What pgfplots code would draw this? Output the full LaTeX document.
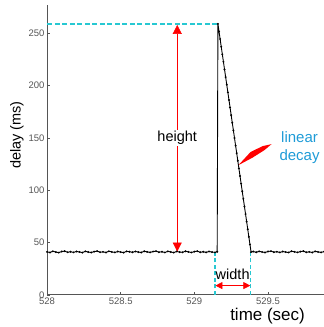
\documentclass[border=0pt]{standalone}
\usepackage{pgfplots}
\pgfplotsset{compat=1.18}
\usepackage{fontspec}
\setmainfont{Liberation Sans}
\usetikzlibrary{arrows.meta}
\definecolor{cyanline}{RGB}{40,200,210}
\definecolor{bluetext}{HTML}{1E9BD7}
\definecolor{axgray}{HTML}{555555}
\begin{document}
\begin{tikzpicture}[x=1pt,y=1pt]
\useasboundingbox (0,0) rectangle (324,327);
\begin{axis}[
  at={(47pt,32pt)}, anchor=origin,
  scale only axis, width=277pt, height=290pt,
  xmin=528, xmax=529.88, ymin=0, ymax=277,
  axis x line*=bottom, axis y line*=left,
  axis line style={line width=1pt, color=axgray},
  tick style={color=axgray, line width=0.8pt},
  tick align=inside, major tick length=3pt,
  xtick={528,528.5,529,529.5}, ytick={0,50,100,150,200,250},
  /pgf/number format/assume math mode=true,
  /pgf/number format/1000 sep={},
  tick label style={font=\fontsize{9.5}{11}\selectfont, text=axgray},
  xticklabel style={yshift=1pt},
  yticklabel style={xshift=1pt},
  clip=false,
]
% cyan dashed guide lines
\draw[draw=cyanline, line width=1.6pt, dash pattern=on 5pt off 2.5pt] (axis cs:528.003,259.0) -- (axis cs:529.17,259.0);
\draw[draw=cyanline, line width=1.3pt, dash pattern=on 4pt off 2.5pt] (axis cs:529.14,0) -- (axis cs:529.14,41);
\draw[draw=cyanline, line width=1.3pt, dash pattern=on 4pt off 2.5pt] (axis cs:529.383,0) -- (axis cs:529.383,41);
% data
\addplot[black, line width=0.9pt, mark=*, mark size=0.45pt] coordinates {
(528.00,41.2) (528.02,40.6) (528.04,41.8) (528.06,41.0) (528.08,40.5) (528.10,41.5)
(528.12,41.9) (528.14,40.8) (528.16,41.3) (528.18,40.7) (528.20,41.6) (528.22,41.1)
(528.24,40.5) (528.26,41.7) (528.28,41.0) (528.30,40.6) (528.32,41.4) (528.34,41.9)
(528.36,40.9) (528.38,41.2) (528.40,40.6) (528.42,41.8) (528.44,41.1) (528.46,40.7)
(528.48,41.5) (528.50,41.0) (528.52,40.5) (528.54,41.7) (528.56,41.3) (528.58,40.8)
(528.60,41.6) (528.62,41.0) (528.64,40.6) (528.66,41.8) (528.68,41.2) (528.70,40.7)
(528.72,41.5) (528.74,41.9) (528.76,40.9) (528.78,41.3) (528.80,40.6) (528.82,41.7)
(528.84,41.1) (528.86,40.5) (528.88,41.6) (528.90,41.0) (528.92,40.8) (528.94,41.8)
(528.96,41.2) (528.98,40.6) (529.00,41.4) (529.02,41.9) (529.04,40.8) (529.06,41.3)
(529.08,40.7) (529.10,41.6) (529.12,41.0) (529.14,40.7) (529.155,41.3)
(529.1600,259.0) (529.1675,251.7) (529.1750,244.5) (529.1825,237.2) (529.1900,229.9)
(529.1975,222.7) (529.2050,215.4) (529.2125,208.1) (529.2200,200.9) (529.2275,193.6)
(529.2350,186.3) (529.2425,179.1) (529.2500,171.8) (529.2575,164.5) (529.2650,157.3)
(529.2725,150.0) (529.2800,142.7) (529.2875,135.5) (529.2950,128.2) (529.3025,120.9)
(529.3100,113.7) (529.3175,106.4) (529.3250,99.1) (529.3325,91.9) (529.3400,84.6)
(529.3475,77.3) (529.3550,70.1) (529.3625,62.8) (529.3700,55.5) (529.3775,48.3)
(529.3850,41.0)
(529.40,41.5) (529.42,40.8) (529.44,41.7) (529.46,41.1) (529.48,40.6) (529.50,41.6)
(529.52,41.9) (529.54,40.9) (529.56,41.3) (529.58,40.7) (529.60,41.5) (529.62,41.0)
(529.64,40.6) (529.66,41.8) (529.68,41.2) (529.70,40.7) (529.72,41.4) (529.74,41.9)
(529.76,40.8) (529.78,41.2) (529.80,40.6) (529.82,41.7) (529.84,41.1) (529.86,40.7)
(529.88,41.4)
};
% height arrow
\draw[red, line width=0.6pt, {Triangle[length=9pt,width=9pt]}-{Triangle[length=9pt,width=9pt]}]
  (axis cs:528.884,258) -- (axis cs:528.884,41.5);
\node[fill=white, inner sep=1.5pt, font=\fontsize{14.5}{17}\selectfont] at (axis cs:528.884,150) {height};
% width arrow
\draw[red, line width=0.8pt, {Triangle[length=7pt,width=7pt]}-{Triangle[length=7pt,width=7pt]}]
  (axis cs:529.143,9) -- (axis cs:529.380,9);
\node[inner sep=0pt, font=\fontsize{14.5}{17}\selectfont] at (axis cs:529.26,20) {width};
% linear decay callout
\fill[red] (axis cs:529.299,124.0) -- (axis cs:529.381,136.5) -- (axis cs:529.463,142.2)
  -- (axis cs:529.524,144.1) -- (axis cs:529.476,138.4) -- (axis cs:529.395,131.2) -- cycle;
\node[text=bluetext, align=center, inner sep=0pt, font=\fontsize{15}{18}\selectfont] at (axis cs:529.714,140.3) {linear\\decay};
% axis labels
\node[rotate=90, inner sep=0pt, font=\fontsize{14.5}{17}\selectfont] at (axis cs:527.796,152.7) {delay (ms)};
\node[inner sep=0pt, font=\fontsize{17}{20}\selectfont] at (axis cs:529.497,-20.0) {time (sec)};
\end{axis}
\end{tikzpicture}
\end{document}
